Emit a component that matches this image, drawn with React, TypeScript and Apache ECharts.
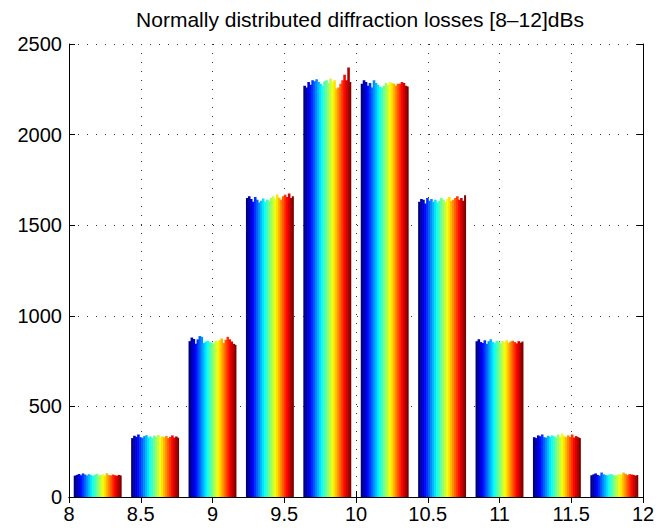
import React, { useEffect, useRef } from "react";
import * as echarts from "echarts";

const TITLE = "Normally distributed diffraction losses [8–12]dBs";
const X_TICKS = [8, 8.5, 9, 9.5, 10, 10.5, 11, 11.5, 12];
const Y_TICKS = [0, 500, 1000, 1500, 2000, 2500];
const BIN_CENTERS = [8.2, 8.6, 9.0, 9.4, 9.8, 10.2, 10.6, 11.0, 11.4, 11.8];

const BIN1 = [118, 122, 127, 120, 130, 124, 119, 126, 121, 117, 123, 128, 119, 122, 125, 118, 131, 121, 119, 124, 120, 117, 122, 119];
const BIN2 = [325, 338, 332, 345, 330, 327, 336, 341, 329, 334, 326, 339, 331, 343, 328, 335, 330, 337, 325, 332, 340, 328, 334, 327];
const BIN3 = [860, 880, 872, 846, 870, 888, 884, 850, 858, 862, 855, 852, 848, 862, 858, 866, 875, 850, 868, 884, 870, 858, 845, 840];
const BIN4 = [1650, 1660, 1645, 1630, 1655, 1640, 1625, 1635, 1648, 1630, 1642, 1637, 1650, 1660, 1645, 1670, 1652, 1640, 1660, 1668, 1655, 1675, 1650, 1660];
const BIN5 = [2270, 2260, 2290, 2275, 2300, 2295, 2305, 2290, 2280, 2270, 2295, 2300, 2285, 2310, 2290, 2300, 2255, 2260, 2280, 2300, 2330, 2300, 2370, 2290];
const BIN6 = [2280, 2300, 2290, 2270, 2285, 2260, 2300, 2285, 2275, 2265, 2260, 2270, 2285, 2275, 2290, 2285, 2280, 2270, 2280, 2280, 2290, 2285, 2270, 2265];
const BIN7 = [1630, 1645, 1640, 1620, 1650, 1635, 1645, 1630, 1640, 1625, 1635, 1650, 1640, 1630, 1645, 1655, 1635, 1640, 1650, 1660, 1640, 1650, 1635, 1665];
const BIN8 = [860, 870, 855, 850, 865, 845, 860, 870, 855, 850, 862, 858, 848, 860, 855, 865, 850, 858, 862, 855, 848, 860, 852, 858];
const BIN9 = [330, 325, 340, 335, 345, 330, 328, 338, 332, 340, 335, 328, 345, 332, 350, 336, 330, 340, 332, 345, 328, 336, 330, 325];
const BIN10 = [120, 125, 130, 122, 118, 135, 125, 122, 120, 124, 126, 121, 119, 123, 127, 122, 135, 128, 121, 126, 124, 122, 118, 121];

const BINS = [BIN1, BIN2, BIN3, BIN4, BIN5, BIN6, BIN7, BIN8, BIN9, BIN10];

const GROUP_WIDTH = 0.334;
const FONT = "'Liberation Sans', Arial, Helvetica, sans-serif";

function clamp01(v: number) {
  return Math.max(0, Math.min(1, v));
}
function jet(t: number) {
  const r = clamp01(1.5 - Math.abs(4 * t - 3));
  const g = clamp01(1.5 - Math.abs(4 * t - 2));
  const b = clamp01(1.5 - Math.abs(4 * t - 1));
  return `rgb(${Math.round(r * 255)},${Math.round(g * 255)},${Math.round(b * 255)})`;
}

export default function App() {
  const ref = useRef<HTMLDivElement>(null);
  useEffect(() => {
    if (!ref.current) return;
    const chart = echarts.init(ref.current, null, { renderer: "svg" });
    const data: number[][] = [];
    BINS.forEach((bin, g) => {
      bin.forEach((v, c) => data.push([g, c, v]));
    });
    const axisLine = { show: true, lineStyle: { color: "#000", width: 1 } };
    const tick = { show: true, inside: true, length: 6, lineStyle: { color: "#000" } };
    const grid = { show: true, lineStyle: { color: "#333", width: 1, type: [1, 8] as any } };
    chart.setOption({
      animation: false,
      backgroundColor: "#fff",
      title: {
        text: TITLE,
        left: 360,
        top: 9,
        padding: 0,
        textAlign: "center",
        textStyle: { fontFamily: FONT, fontSize: 21, fontWeight: "normal", color: "#000" },
      },
      grid: { left: 69, right: 15, top: 44, bottom: 34 },
      xAxis: [
        {
          type: "value",
          min: X_TICKS[0],
          max: X_TICKS[X_TICKS.length - 1],
          interval: 0.5,
          axisLine,
          axisTick: tick,
          splitLine: grid,
          axisLabel: {
            color: "#000",
            fontFamily: FONT,
            fontSize: 20,
            margin: 7,
            showMinLabel: true,
            showMaxLabel: true,
            formatter: (v: number) => String(v),
          },
        },
        {
          type: "value",
          position: "top",
          min: X_TICKS[0],
          max: X_TICKS[X_TICKS.length - 1],
          interval: 0.5,
          axisLine,
          axisTick: tick,
          splitLine: { show: false },
          axisLabel: { show: false },
        },
      ],
      yAxis: [
        {
          type: "value",
          min: Y_TICKS[0],
          max: Y_TICKS[Y_TICKS.length - 1],
          interval: 500,
          axisLine,
          axisTick: tick,
          splitLine: grid,
          axisLabel: {
            color: "#000",
            fontFamily: FONT,
            fontSize: 20,
            margin: 7,
            formatter: (v: number) => String(v),
          },
        },
        {
          type: "value",
          position: "right",
          min: Y_TICKS[0],
          max: Y_TICKS[Y_TICKS.length - 1],
          interval: 500,
          axisLine,
          axisTick: tick,
          splitLine: { show: false },
          axisLabel: { show: false },
        },
      ],
      series: [
        {
          type: "custom",
          xAxisIndex: 0,
          yAxisIndex: 0,
          data,
          z: 3,
          renderItem: (params: any, api: any) => {
            const g = api.value(0);
            const c = api.value(1);
            const v = api.value(2);
            const n = BINS[g].length;
            const w = GROUP_WIDTH / n;
            const x0 = BIN_CENTERS[g] - GROUP_WIDTH / 2 + c * w;
            const p0 = api.coord([x0, v]);
            const p1 = api.coord([x0 + w, 0]);
            const extra = c < n - 1 ? 0.6 : 0;
            return {
              type: "rect",
              shape: { x: p0[0], y: p0[1], width: p1[0] - p0[0] + extra, height: p1[1] - p0[1] },
              style: { fill: jet(c / (n - 1)) },
            };
          },
        },
      ],
    });
    return () => chart.dispose();
  }, []);
  return (
    <div
      ref={ref}
      style={{ position: "fixed", left: 0, top: 0, width: 658, height: 531, background: "#fff" }}
    />
  );
}
